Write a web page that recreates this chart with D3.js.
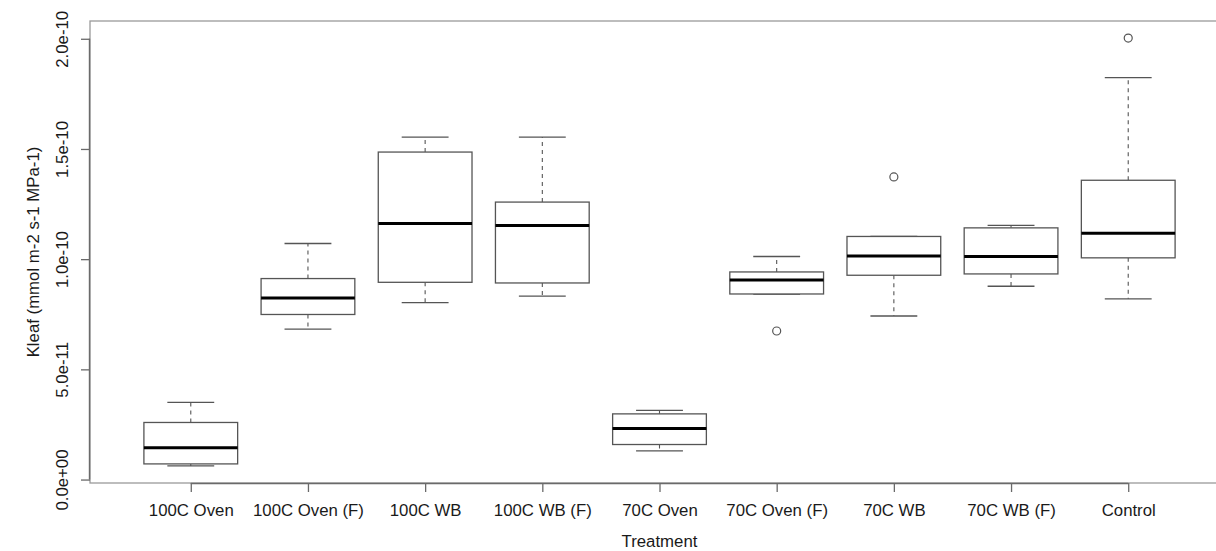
<!DOCTYPE html>
<html><head><meta charset="utf-8">
<script src="https://cdn.jsdelivr.net/npm/d3@7/dist/d3.min.js"></script>
<style>
html,body{margin:0;padding:0;background:#fff;}
text{font-family:"Liberation Sans",Arial,sans-serif;fill:#1a1a1a;}
</style></head>
<body><svg id="chart" width="1216" height="551"></svg>
<script>
const categories = ["100C Oven","100C Oven (F)","100C WB","100C WB (F)","70C Oven","70C Oven (F)","70C WB","70C WB (F)","Control"];
const lowerWhisker = [6.2e-12, 6.83e-11, 8.03e-11, 8.32e-11, 1.30e-11, 8.42e-11, 7.42e-11, 8.77e-11, 8.20e-11];
const q1 =           [7.1e-12, 7.49e-11, 8.95e-11, 8.92e-11, 1.59e-11, 8.42e-11, 9.27e-11, 9.33e-11, 1.006e-10];
const medians =      [1.44e-11, 8.24e-11, 1.162e-10, 1.153e-10, 2.32e-11, 9.05e-11, 1.014e-10, 1.012e-10, 1.118e-10];
const q3 =           [2.59e-11, 9.12e-11, 1.486e-10, 1.259e-10, 2.98e-11, 9.42e-11, 1.103e-10, 1.142e-10, 1.358e-10];
const upperWhisker = [3.5e-11, 1.071e-10, 1.554e-10, 1.554e-10, 3.14e-11, 1.012e-10, 1.103e-10, 1.153e-10, 1.824e-10];
const outlierCats = ["70C Oven (F)", "70C WB", "Control"];
const outlierVals = [6.74e-11, 1.373e-10, 2.003e-10];
const yTicks = [0, 5e-11, 1e-10, 1.5e-10, 2e-10];
const yTickLabels = ["0.0e+00","5.0e-11","1.0e-10","1.5e-10","2.0e-10"];
const xTitle = "Treatment";
const yTitle = "Kleaf (mmol m-2 s-1 MPa-1)";

(function(){
const svg = d3.select("#chart");
const mLeft = 90, mRight = 1229, mTop = 21, mBottom = 483;
const n = categories.length;
const allVals = lowerWhisker.concat(upperWhisker, outlierVals);
const vmin = d3.min(allVals), vmax = d3.max(allVals), vr = vmax - vmin;
const y = d3.scaleLinear().domain([vmin - 0.04*vr, vmax + 0.04*vr]).range([mBottom, mTop]);
const xr = n;
const x = d3.scaleLinear().domain([0.5 - 0.04*xr, n + 0.5 + 0.04*xr]).range([mLeft, mRight]);
const step = x(2) - x(1);
const bw = step * 0.8;
const fs = 16.8;

svg.append("rect").attr("x", mLeft).attr("y", mTop).attr("width", mRight-mLeft).attr("height", mBottom-mTop)
  .attr("fill","none").attr("stroke","#9a9a9a").attr("stroke-width",1.3);

const g = svg.append("g");
categories.forEach((c, i) => {
  const cx = x(i+1);
  const dash = "4,4";
  g.append("line").attr("x1",cx).attr("x2",cx).attr("y1",y(q3[i])).attr("y2",y(upperWhisker[i]))
    .attr("stroke","#555").attr("stroke-width",1.1).attr("stroke-dasharray",dash);
  g.append("line").attr("x1",cx).attr("x2",cx).attr("y1",y(q1[i])).attr("y2",y(lowerWhisker[i]))
    .attr("stroke","#555").attr("stroke-width",1.1).attr("stroke-dasharray",dash);
  [upperWhisker[i], lowerWhisker[i]].forEach(v => {
    g.append("line").attr("x1",cx-bw/4).attr("x2",cx+bw/4).attr("y1",y(v)).attr("y2",y(v))
      .attr("stroke","#555").attr("stroke-width",1.3);
  });
  g.append("rect").attr("x",cx-bw/2).attr("width",bw).attr("y",y(q3[i])).attr("height",y(q1[i])-y(q3[i]))
    .attr("fill","#fff").attr("stroke","#555").attr("stroke-width",1.3);
  g.append("line").attr("x1",cx-bw/2).attr("x2",cx+bw/2).attr("y1",y(medians[i])).attr("y2",y(medians[i]))
    .attr("stroke","#000").attr("stroke-width",3);
});
outlierCats.forEach((c, k) => {
  const i = categories.indexOf(c);
  g.append("circle").attr("cx",x(i+1)).attr("cy",y(outlierVals[k])).attr("r",4)
    .attr("fill","none").attr("stroke","#555").attr("stroke-width",1.2);
});

const xAxis = d3.axisBottom(x).tickValues(d3.range(1, n+1)).tickSize(9).tickFormat(d => categories[d-1]);
const xg = svg.append("g").attr("transform",`translate(0,${mBottom})`).call(xAxis);
xg.select(".domain").attr("d", `M${x(1)},0.5H${x(n)}`).attr("stroke","#6a6a6a").attr("stroke-width",1.4);
xg.selectAll(".tick line").attr("stroke","#6a6a6a").attr("stroke-width",1.3);
xg.selectAll(".tick text").attr("y",null).attr("dy",null).attr("transform","translate(0,33)")
  .style("font-size",fs+"px").style("font-family","Liberation Sans, Arial, sans-serif").attr("fill","#1a1a1a");

const yAxis = d3.axisLeft(y).tickValues(yTicks).tickSize(9).tickFormat((d,i) => yTickLabels[i]);
const yg = svg.append("g").attr("transform",`translate(${mLeft},0)`).call(yAxis);
yg.select(".domain").attr("d", `M-0.5,${y(0)}V${y(2e-10)}`).attr("stroke","#6a6a6a").attr("stroke-width",1.4);
yg.selectAll(".tick line").attr("stroke","#6a6a6a").attr("stroke-width",1.3);
yg.selectAll(".tick text").attr("x",null).attr("dy",null).attr("text-anchor","middle")
  .attr("transform","translate(-22,0) rotate(-90)")
  .style("font-size",fs+"px").style("font-family","Liberation Sans, Arial, sans-serif").attr("fill","#1a1a1a");

svg.append("text").attr("x",(mLeft+mRight)/2).attr("y",547).attr("text-anchor","middle")
  .style("font-size",fs+"px").text(xTitle);
svg.append("text").attr("transform",`translate(39,${(mTop+mBottom)/2}) rotate(-90)`).attr("text-anchor","middle")
  .style("font-size",fs+"px").text(yTitle);
})();
</script></body></html>
